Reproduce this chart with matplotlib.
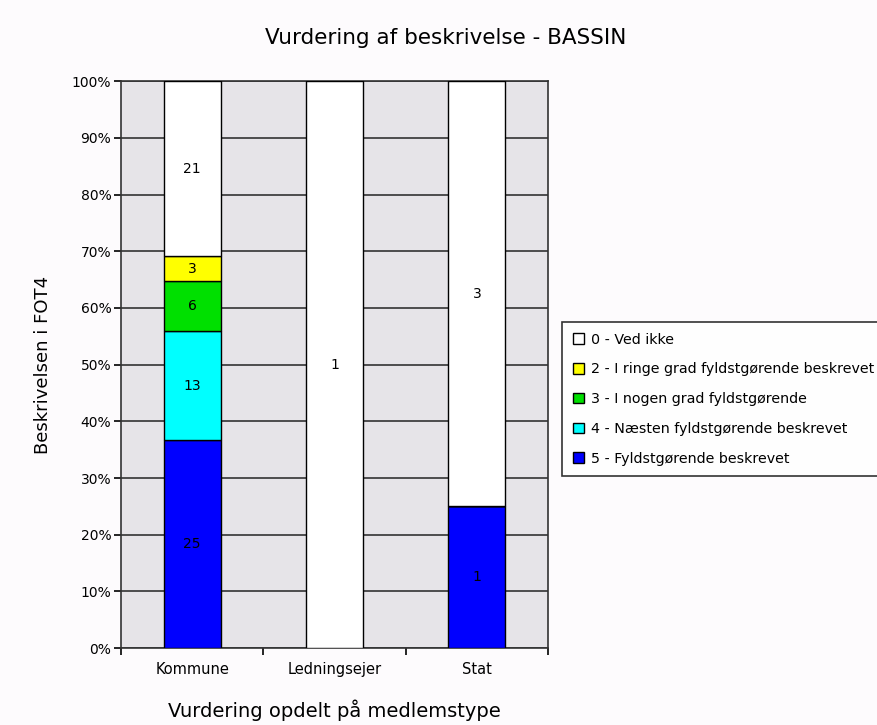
import numpy as np
import matplotlib.pyplot as plt
from matplotlib.ticker import MultipleLocator, FixedLocator, PercentFormatter
from matplotlib.patches import Patch

categories = ['Kommune', 'Ledningsejer', 'Stat']
series = ['5 - Fyldstgørende beskrevet', '4 - Næsten fyldstgørende beskrevet',
          '3 - I nogen grad fyldstgørende', '2 - I ringe grad fyldstgørende beskrevet',
          '0 - Ved ikke']
colors = ['#0000FF', '#00FFFF', '#00E000', '#FFFF00', '#FFFFFF']
counts = {
    '5 - Fyldstgørende beskrevet': [25, 0, 1],
    '4 - Næsten fyldstgørende beskrevet': [13, 0, 0],
    '3 - I nogen grad fyldstgørende': [6, 0, 0],
    '2 - I ringe grad fyldstgørende beskrevet': [3, 0, 0],
    '0 - Ved ikke': [21, 1, 3],
}

plt.rcParams.update({'font.family': 'DejaVu Sans', 'font.size': 9.5})
fig = plt.figure(figsize=(8.77, 7.25), dpi=100, facecolor='#FDFBFD')
ax = fig.add_axes([0.138, 0.106, 0.487, 0.782])
ax.set_facecolor('#E6E4E8')

x = np.arange(len(categories))
totals = np.sum([counts[s] for s in series], axis=0)
bottom = np.zeros(len(categories))
for s, c in zip(series, colors):
    v = np.array(counts[s], dtype=float)
    pct = v / totals * 100
    ax.bar(x, pct, 0.4, bottom=bottom, color=c, edgecolor='black', lw=1, zorder=3)
    for i in range(len(categories)):
        if v[i] > 0:
            ax.text(x[i], bottom[i] + pct[i] / 2, '%d' % v[i], ha='center', va='center',
                    fontsize=10, zorder=4)
    bottom += pct

ax.set_xlim(-0.5, 2.5)
ax.set_ylim(0, 100)
ax.yaxis.set_major_locator(MultipleLocator(10))
ax.yaxis.set_major_formatter(PercentFormatter(decimals=0))
ax.grid(axis='y', color='#333333', lw=1.2, zorder=1)
ax.set_xticks(x)
ax.set_xticklabels(categories, fontsize=10.5)
ax.xaxis.set_minor_locator(FixedLocator([-0.5, 0.5, 1.5, 2.5]))
ax.tick_params(axis='x', which='major', length=0, pad=10)
ax.tick_params(axis='x', which='minor', length=5, width=1.2, direction='out')
ax.tick_params(axis='y', length=5, width=1.2, pad=2, labelsize=10)
for sp in ax.spines.values():
    sp.set_color('#333333')
    sp.set_linewidth(1.2)

ax.set_ylabel('Beskrivelsen i FOT4', fontsize=13, labelpad=14)
ax.set_xlabel('Vurdering opdelt på medlemstype', fontsize=14, labelpad=16)
fig.text(0.508, 0.948, 'Vurdering af beskrivelse - BASSIN', ha='center', va='center', fontsize=15.5)

handles = [Patch(facecolor=c, edgecolor='black', label=s)
           for s, c in zip(series[::-1], colors[::-1])]
leg = fig.legend(handles=handles, loc='upper left', bbox_to_anchor=(0.641, 0.556),
                 frameon=True, fancybox=False, edgecolor='black', fontsize=10.3,
                 handlelength=0.75, handleheight=0.75, handletextpad=0.5,
                 labelspacing=1.1, borderpad=0.75, borderaxespad=0)
leg.get_frame().set_linewidth(1.2)

fig.savefig('out.png', dpi=100, facecolor=fig.get_facecolor())
